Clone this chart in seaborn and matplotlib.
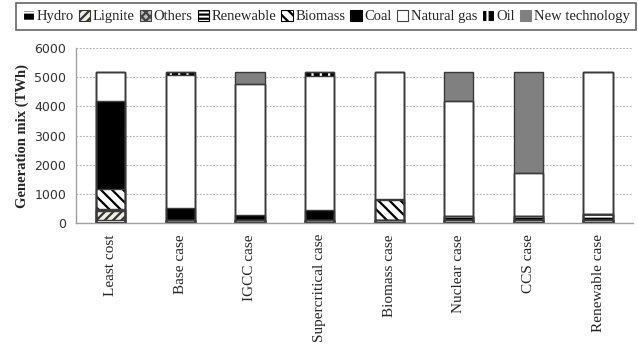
import matplotlib
matplotlib.use("Agg")
import matplotlib.pyplot as plt
from matplotlib.patches import Patch
import numpy as np
import seaborn as sns

cases = ["Least cost", "Base case", "IGCC case", "Supercritical case",
         "Biomass case", "Nuclear case", "CCS case", "Renewable case"]

# Generation by source (TWh) for each case
hydro      = [90, 90, 90, 90, 90, 90, 90, 90]
lignite    = [330, 0, 0, 0, 0, 0, 0, 0]
others     = [30, 0, 0, 0, 0, 0, 0, 0]
renewable  = [30, 30, 30, 30, 30, 150, 150, 230]
biomass    = [690, 0, 0, 0, 660, 0, 0, 0]
coal       = [3000, 400, 150, 330, 40, 0, 0, 0]
natural_gas = [1010, 4560, 4510, 4600, 4360, 3960, 1460, 4860]
oil        = [0, 100, 0, 130, 0, 0, 0, 0]
new_tech   = [0, 0, 400, 0, 0, 980, 3480, 0]

series = ["Hydro", "Lignite", "Others", "Renewable", "Biomass", "Coal",
          "Natural gas", "Oil", "New technology"]
values = [hydro, lignite, others, renewable, biomass, coal,
          natural_gas, oil, new_tech]

# face colour, hatch, hatch colour
styles = {
    "Hydro":          ("black",   "--",   "white"),
    "Lignite":        ("#efeee2", "////", "#333333"),
    "Others":         ("#bdbdbd", "xxxx", "#444444"),
    "Renewable":      ("white",   "----", "black"),
    "Biomass":        ("white",   "\\\\\\", "black"),
    "Coal":           ("black",   "",     "black"),
    "Natural gas":    ("white",   "",     "#404040"),
    "Oil":            ("black",   "||",   "white"),
    "New technology": ("#808080", "",     "#808080"),
}

sns.set_style("white")
plt.rcParams["hatch.linewidth"] = 1.6
serif = ["Liberation Serif", "DejaVu Serif"]

fig = plt.figure(figsize=(6.38, 3.49), dpi=100)
ax = fig.add_axes([0.119, 0.361, 0.873, 0.501])

cum = np.cumsum(np.array(values, dtype=float), axis=0)
bar_w = 0.42

# Stacked bars: draw cumulative totals from top segment down so each
# lower segment covers the ones beneath it
for i in range(len(series) - 1, -1, -1):
    face, hatch, hcol = styles[series[i]]
    sns.barplot(x=cases, y=cum[i], color=face, saturation=1, width=bar_w,
                hatch=hatch, edgecolor=hcol, linewidth=0, errorbar=None,
                ax=ax)
# Segment outlines
for i in range(len(series) - 1, -1, -1):
    sns.barplot(x=cases, y=cum[i], fill=False, width=bar_w,
                edgecolor="#3a3a3a", linewidth=1.0, errorbar=None, ax=ax)

ax.set_ylim(0, 6000)
ax.set_xlim(-0.5, len(cases) - 0.5)
ax.set_yticks(np.arange(0, 6001, 1000))
ax.yaxis.grid(True, linestyle=(0, (1.5, 1.5)), color="#b0b0b0", linewidth=0.8)
ax.set_axisbelow(True)

for s in ["top", "right"]:
    ax.spines[s].set_visible(False)
for s in ["left", "bottom"]:
    ax.spines[s].set_color("#a0a0a0")
    ax.spines[s].set_linewidth(1.0)

ax.set_xticks(range(len(cases)))
ax.set_xticklabels(cases, rotation=90, fontfamily=serif, fontsize=11)
ax.tick_params(axis="x", length=0, pad=8)
ax.set_xticks(np.arange(0.5, len(cases) - 0.5, 1.0), minor=True)
ax.tick_params(axis="x", which="minor", length=4, color="#a0a0a0", width=1)
ax.tick_params(axis="y", length=4, color="#a0a0a0", width=1, labelsize=9,
               labelcolor="#333333", pad=3)
ax.set_xlabel("")
ax.set_ylabel("Generation mix (TWh)", fontfamily=serif, fontweight="bold",
              fontsize=10.5, labelpad=4)

handles = []
for name in series:
    face, hatch, hcol = styles[name]
    handles.append(Patch(facecolor=face, hatch=hatch, edgecolor=hcol,
                         linewidth=0.8, label=name))
leg = fig.legend(handles=handles, loc="upper left",
                 bbox_to_anchor=(16 / 638, 1 - 33 / 349, 620 / 638, 30 / 349),
                 mode="expand", ncol=9, frameon=True, fancybox=False,
                 edgecolor="#404040", handlelength=0.8, handleheight=0.8,
                 handletextpad=0.15, columnspacing=0.3, borderpad=0.45,
                 borderaxespad=0, prop={"family": serif, "size": 10.5})
leg.get_frame().set_linewidth(1.2)

fig.savefig("out.png", dpi=100)
